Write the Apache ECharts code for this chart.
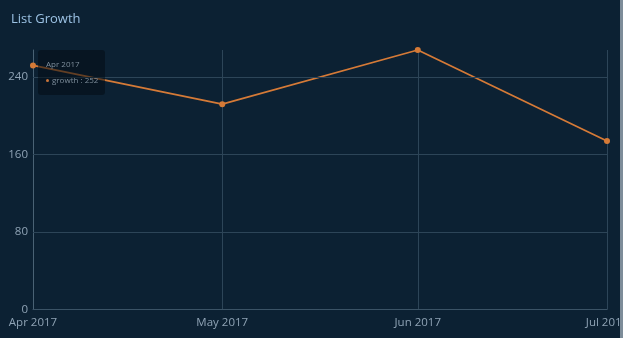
<!DOCTYPE html>
<html><head><meta charset="utf-8">
<script src="https://cdn.jsdelivr.net/npm/echarts@6/dist/echarts.min.js"></script>
<style>
html,body{margin:0;padding:0;background:#7d8c99;width:623px;height:338px;overflow:hidden}
#c{width:620px;height:338px;background:#0c2133}
</style></head><body>
<div id="c"></div>
<script>
const dates = ['2017-04-01','2017-05-01','2017-06-01','2017-07-01'];
const growth = [252, 212, 268, 174];
const yTicks = [0, 80, 160, 240];
const seriesName = 'growth';

const chart = echarts.init(document.getElementById('c'), null, {renderer:'canvas'});
const months = ['Jan','Feb','Mar','Apr','May','Jun','Jul','Aug','Sep','Oct','Nov','Dec'];
function fmt(v){const d=new Date(v);return months[d.getMonth()]+' '+d.getFullYear();}
const gridColor = '#2d4558';
chart.setOption({
  animation:false,
  backgroundColor:'#0c2133',
  textStyle:{fontFamily:'Open Sans'},
  title:{text:'List Growth',left:6,top:8,textStyle:{color:'#9cc2e4',fontSize:13,fontWeight:'normal',fontFamily:'Open Sans'}},
  tooltip:{trigger:'item',alwaysShowContent:true,position:[38,50],
    backgroundColor:'rgba(3,12,20,0.55)',borderWidth:0,padding:[6,8],extraCssText:'box-shadow:none;border-radius:3px;width:51px;height:33px;',
    formatter:function(p){return '<div style="font-size:8px;line-height:16px;color:#7f8e9c;font-family:Open Sans">'+fmt(p.value[0])+'<br><span style="display:inline-block;width:3px;height:3px;border-radius:2px;background:#c8743a;margin-right:3px;vertical-align:middle"></span>'+p.seriesName+' : '+p.value[1]+'</div>';}
  },
  grid:{left:33,right:13,top:50,bottom:28.5,outerBoundsMode:'none',containLabel:false},
  xAxis:{type:'time',min:dates[0],max:dates[dates.length-1],splitNumber:3,
    axisLine:{show:true,lineStyle:{color:'#3b5366'}},axisTick:{show:false},
    axisLabel:{color:'#8fa3b5',fontSize:11.5,margin:7,formatter:function(v){return fmt(v);},showMinLabel:true,showMaxLabel:true,hideOverlap:false},
    splitLine:{show:true,lineStyle:{color:gridColor}}},
  yAxis:{type:'value',min:0,max:'dataMax',interval:80,
    axisLine:{show:true,lineStyle:{color:'#4a6274'}},axisTick:{show:false},
    axisLabel:{color:'#8fa3b5',fontSize:11.5,margin:5,showMaxLabel:false,formatter:function(v){return yTicks.indexOf(v)>=0?String(v):'';}},
    splitLine:{show:false}},
  series:[{name:seriesName,type:'line',data:dates.map((d,i)=>[d,growth[i]]),
    symbol:'circle',symbolSize:6,showAllSymbol:true,
    lineStyle:{color:'#d57a37',width:1.8},itemStyle:{color:'#d57a37'},
    markLine:{silent:true,symbol:'none',label:{show:false},animation:false,
      lineStyle:{color:gridColor,type:'solid',width:1},
      data:yTicks.filter(v=>v>0).map(v=>({yAxis:v}))},
    z:3}]
});
chart.dispatchAction({type:'showTip',seriesIndex:0,dataIndex:0});
</script>
</body></html>
